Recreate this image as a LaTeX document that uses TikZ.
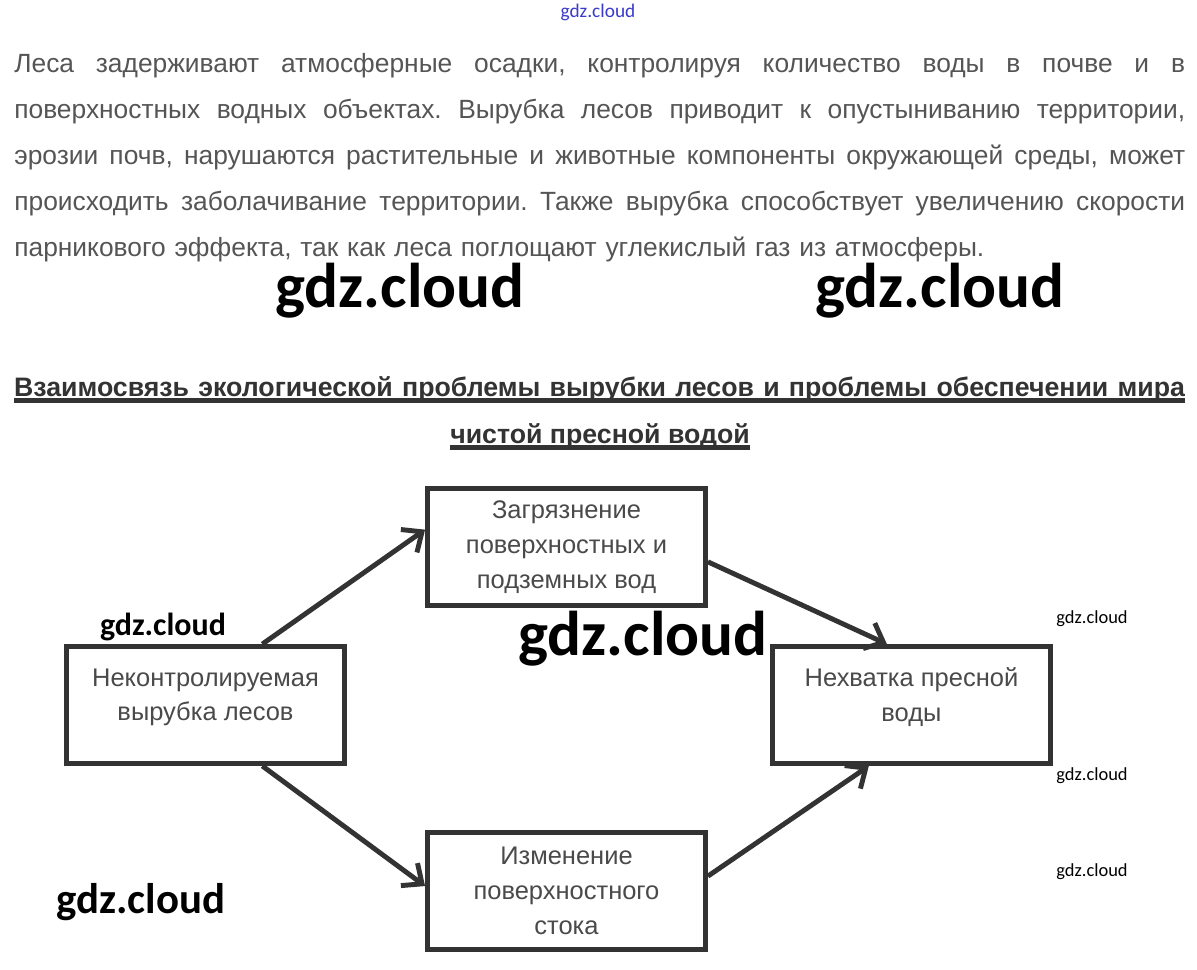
\documentclass[tikz,border=0pt]{standalone}
\usepackage{fontspec}
\setmainfont{Liberation Sans}
\newfontfamily\wmfont{Carlito}
\usetikzlibrary{arrows.meta,positioning}
\definecolor{boxline}{HTML}{333333}
\definecolor{bodytext}{HTML}{555555}
\definecolor{boxtext}{HTML}{4A4A4A}
\definecolor{wmblue}{HTML}{3A3ACC}
\frenchspacing
\tikzset{
  >={Straight Barb[length=3.2mm,width=5.6mm]},
  issue/.style={draw=boxline,line width=2.8pt,minimum width=5.56cm,minimum height=2.34cm,
    align=center,text=boxtext,font=\fontsize{14.5}{19.8}\selectfont,inner sep=0pt},
  link/.style={->,draw=boxline,line width=2.8pt},
  head/.style={font=\bfseries\fontsize{15.2}{26}\selectfont,text=boxline,inner sep=0pt},
  wm/.style={font=\wmfont\fontsize{#1}{#1}\selectfont,inner sep=0pt},
  wmbold/.style={font=\wmfont\bfseries\fontsize{#1}{#1}\selectfont,inner sep=0pt},
}
\newcommand{\fullline}[1]{{\spaceskip=0pt\xspaceskip=0pt\makebox[23.42cm][s]{#1}}}

\begin{document}
\begin{tikzpicture}[x=0.02cm,y=-0.02cm]
  \fill[white] (0,0) rectangle (1197,970);
  \useasboundingbox (0,0) rectangle (1197,970);

  % text above the scheme
  \node[anchor=north west,text width=23.42cm,inner sep=0pt,align=left,text=bodytext,
        font=\fontsize{15}{26.2}\selectfont] (para) at (14,53)
    {\fullline{Леса задерживают атмосферные осадки, контролируя количество воды в почве и в}\\
     \fullline{поверхностных водных объектах. Вырубка лесов приводит к опустыниванию территории,}\\
     \fullline{эрозии почв, нарушаются растительные и животные компоненты окружающей среды, может}\\
     \fullline{происходить заболачивание территории. Также вырубка способствует увеличению скорости}\\
     парникового эффекта, так как леса поглощают углекислый газ из атмосферы.};

  % heading
  \node[head,anchor=base] (title1) at (599.5,396)
    {\fullline{Взаимосвязь экологической проблемы вырубки лесов и проблемы обеспечении мира}};
  \node[head,anchor=base] (title2) at (600,443) {чистой пресной водой};
  \draw[boxline,line width=2.4pt] ([yshift=-2.6pt]title1.base west) -- ([yshift=-2.6pt]title1.base east);
  \draw[boxline,line width=2.4pt] ([yshift=-2.6pt]title2.base west) -- ([yshift=-2.6pt]title2.base east);

  % scheme
  \node[issue] (cut) at (205.5,705) {Неконтролируемая\\вырубка лесов\\[-8pt]\mbox{}};
  \node[issue] (pollut) at (566.5,547) {Загрязнение\\поверхностных и\\подземных вод};
  \node[issue] (lack) at (911.5,705) {Нехватка пресной\\воды\\[-8pt]\mbox{}};
  \node[issue] (runoff) at (566.5,891) {Изменение\\поверхностного\\стока};

  \draw[link] (cut.47) -- (pollut.173);
  \draw[link] (pollut.354) -- (lack.112);
  \draw[link] (cut.313) -- (runoff.178);
  \draw[link] (runoff.6) -- (lack.235);

  % watermarks
  \node[wm=11,text=wmblue] (wm0) at (598,12) {gdz.cloud};
  \node[wmbold=36] (wm1) at (400,291) {gdz.cloud};
  \node[wmbold=36] (wm2) at (940,291) {gdz.cloud};
  \node[wmbold=18.2] (wm3) at (163,627) {gdz.cloud};
  \node[wmbold=36] (wm4) at (643,639) {gdz.cloud};
  \node[wmbold=24.4] (wm5) at (141,902) {gdz.cloud};
  \node[wm=10.5] (wm6) at (1092,619) {gdz.cloud};
  \node[wm=10.5] (wm7) at (1092,776) {gdz.cloud};
  \node[wm=10.5] (wm8) at (1092,872) {gdz.cloud};
\end{tikzpicture}
\end{document}
